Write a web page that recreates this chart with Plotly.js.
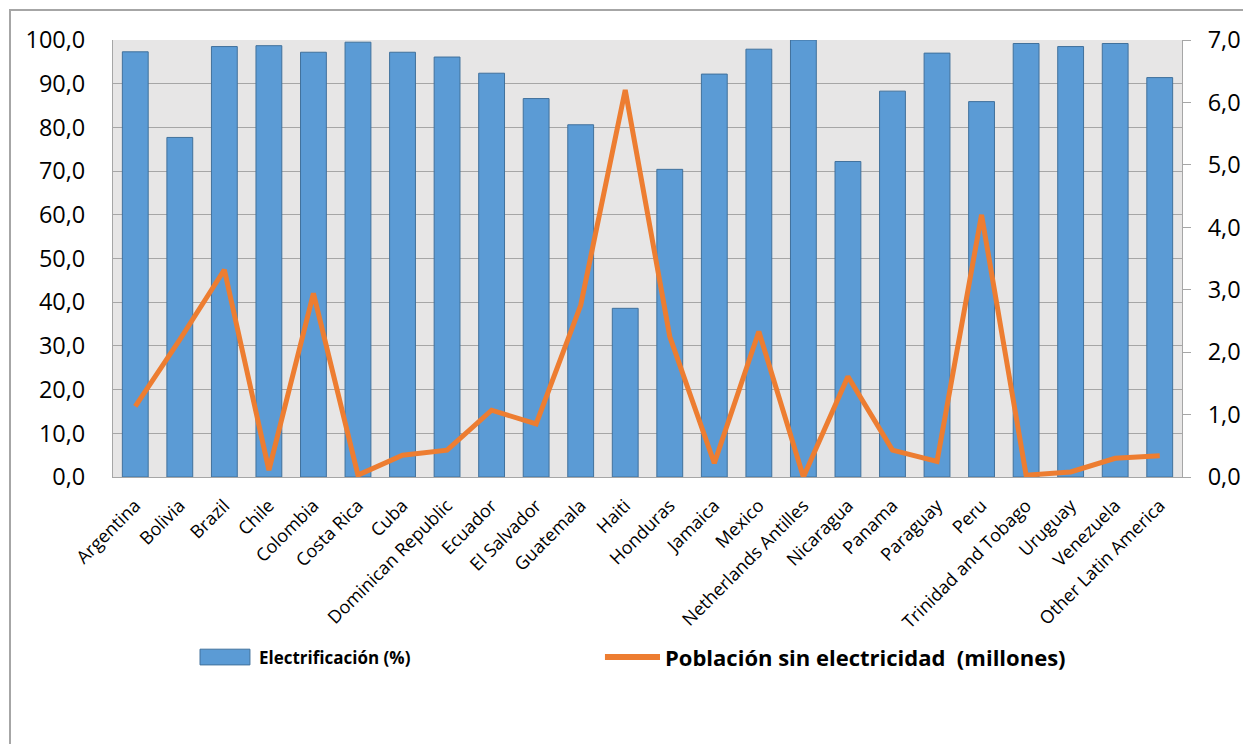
<!DOCTYPE html>
<html>
<head>
<meta charset="utf-8">
<script src="https://cdn.plot.ly/plotly-3.0.1.min.js"></script>
<style>
  html, body { margin: 0; padding: 0; background: #ffffff; overflow: hidden; }
  #frame { position: absolute; left: 9px; top: 9px; width: 1300px; height: 800px;
           border: 2px solid #a6a6a6; box-sizing: border-box; }
  #chart { position: absolute; left: 0; top: 0; width: 1243px; height: 744px; }
</style>
</head>
<body>
<div id="frame"></div>
<div id="chart"></div>
<script>
// Latin American countries
const countries = [
  "Argentina", "Bolivia", "Brazil", "Chile", "Colombia", "Costa Rica", "Cuba",
  "Dominican Republic", "Ecuador", "El Salvador", "Guatemala", "Haiti", "Honduras",
  "Jamaica", "Mexico", "Netherlands Antilles", "Nicaragua", "Panama", "Paraguay",
  "Peru", "Trinidad and Tobago", "Uruguay", "Venezuela", "Other Latin America"
];

// Electrification rate (%)
const electrificacion = [
  97.3, 77.7, 98.5, 98.7, 97.2, 99.5, 97.2,
  96.1, 92.4, 86.6, 80.6, 38.6, 70.4,
  92.2, 97.9, 100.0, 72.2, 88.3, 97.0,
  85.9, 99.2, 98.5, 99.2, 91.4
];

// Population without electricity (millions)
const poblacionSinElectricidad = [
  1.13, 2.2, 3.32, 0.11, 2.94, 0.03, 0.35,
  0.43, 1.07, 0.85, 2.75, 6.2, 2.25,
  0.22, 2.33, 0.0, 1.61, 0.43, 0.25,
  4.2, 0.03, 0.08, 0.30, 0.34
];

const leftTicks = [0, 10, 20, 30, 40, 50, 60, 70, 80, 90, 100];
const rightTicks = [0, 1, 2, 3, 4, 5, 6, 7];

const seriesNames = ["Electrificación (%)", "Población sin electricidad  (millones)"];

const FONT = "Open Sans, Noto Sans, sans-serif";
const GRID = "#a6a6a6";
const BAR_FILL = "#5b9bd5";
const BAR_EDGE = "#41719c";
const LINE_COLOR = "#ed7d31";

const traces = [
  {
    type: "bar",
    name: seriesNames[0],
    x: countries,
    y: electrificacion,
    marker: { color: BAR_FILL, line: { color: BAR_EDGE, width: 1 } },
    yaxis: "y",
    showlegend: false
  },
  {
    type: "scatter",
    mode: "lines",
    name: seriesNames[1],
    x: countries,
    y: poblacionSinElectricidad,
    line: { color: LINE_COLOR, width: 5 },
    yaxis: "y2",
    showlegend: false
  }
];

// Legend row under the category labels (paper coordinates)
const legendY = -0.412;
const legendShapes = [
  {
    type: "rect", xref: "paper", yref: "paper",
    x0: 0.0814, x1: 0.1281, y0: legendY + 0.018, y1: legendY - 0.018,
    fillcolor: BAR_FILL, line: { color: BAR_EDGE, width: 1 }
  },
  {
    type: "line", xref: "paper", yref: "paper",
    x0: 0.4602, x1: 0.5117, y0: legendY, y1: legendY,
    line: { color: LINE_COLOR, width: 6 }
  }
];
const legendLabels = [
  {
    xref: "paper", yref: "paper", x: 0.1347, y: legendY,
    xanchor: "left", yanchor: "middle", showarrow: false,
    text: "<b>" + seriesNames[0] + "</b>",
    font: { family: FONT, size: 17, color: "#000000" }
  },
  {
    xref: "paper", yref: "paper", x: 0.5145, y: legendY,
    xanchor: "left", yanchor: "middle", showarrow: false,
    text: "<b>" + seriesNames[1] + "</b>",
    font: { family: FONT, size: 22, color: "#000000" }
  }
];

const layout = {
  width: 1243,
  height: 744,
  paper_bgcolor: "rgba(0,0,0,0)",
  plot_bgcolor: "#e7e6e6",
  separators: ",.",
  margin: { l: 113, r: 61, t: 40, b: 267 },
  bargap: 0.42,
  font: { family: FONT, color: "#000000" },
  showlegend: false,
  shapes: legendShapes,
  annotations: legendLabels,
  xaxis: {
    type: "category",
    tickangle: -45,
    tickfont: { family: FONT, size: 18, color: "#000000" },
    showline: true,
    linecolor: GRID,
    linewidth: 1,
    ticks: "",
    ticklabelstandoff: 10,
    showgrid: false,
    fixedrange: true
  },
  yaxis: {
    range: [0, 100],
    tickvals: leftTicks,
    tickformat: ".1f",
    tickfont: { family: FONT, size: 23.5, color: "#000000" },
    showline: true,
    linecolor: GRID,
    linewidth: 1,
    showgrid: true,
    gridcolor: GRID,
    gridwidth: 1,
    zeroline: false,
    ticks: "",
    ticklabelstandoff: 22,
    fixedrange: true
  },
  yaxis2: {
    overlaying: "y",
    side: "right",
    range: [0, 7],
    tickvals: rightTicks,
    tickformat: ".1f",
    tickfont: { family: FONT, size: 23.5, color: "#000000" },
    showline: true,
    linecolor: GRID,
    linewidth: 1,
    showgrid: false,
    zeroline: false,
    ticks: "outside",
    ticklen: 8,
    tickcolor: GRID,
    ticklabelstandoff: 12,
    fixedrange: true
  }
};

Plotly.newPlot("chart", traces, layout, { displayModeBar: false, staticPlot: true });
</script>
</body>
</html>
